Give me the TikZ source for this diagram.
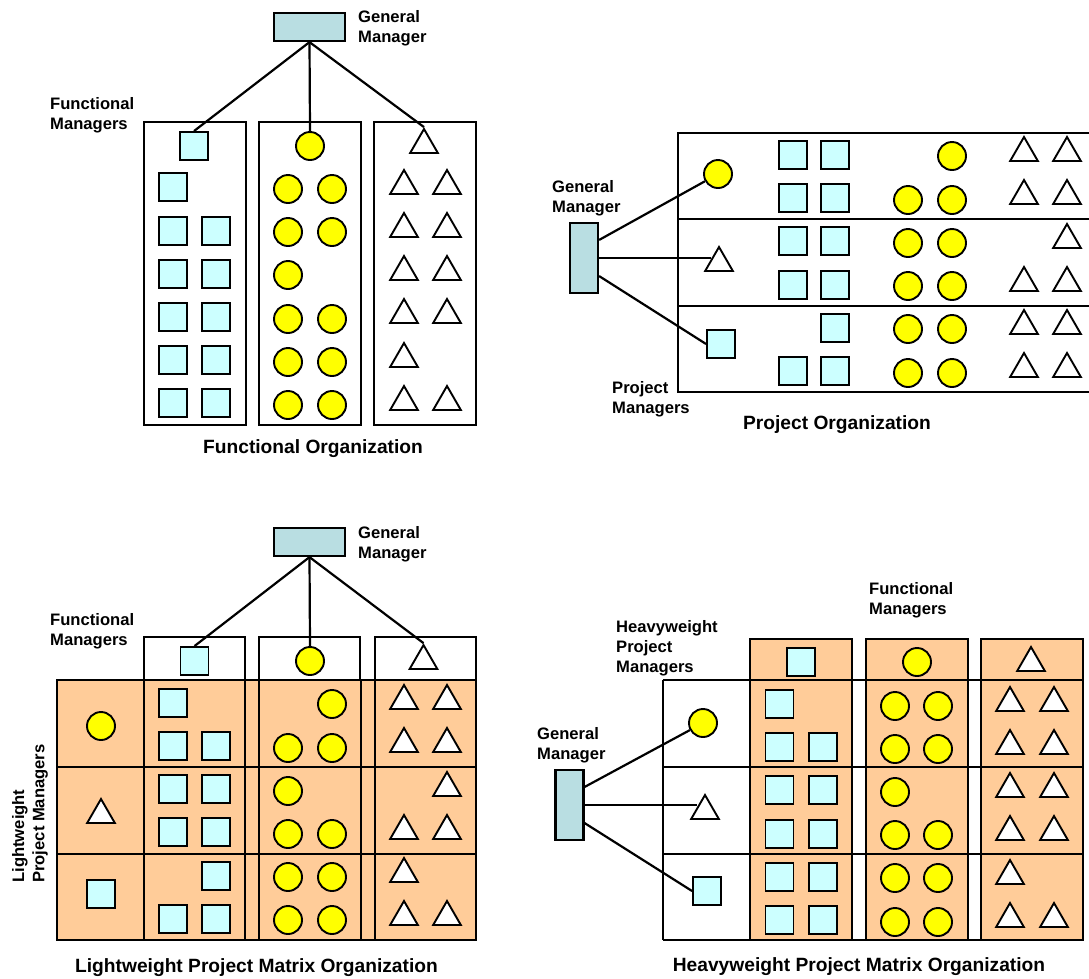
\documentclass[tikz,border=0pt]{standalone}
\usepackage{fontspec}
\setmainfont{Liberation Sans}
\usetikzlibrary{shapes.geometric,calc}
\definecolor{gmblue}{RGB}{185,222,226}
\definecolor{staff}{RGB}{204,255,255}
\definecolor{matrixfill}{RGB}{255,204,153}
\definecolor{yel}{RGB}{255,255,0}
\begin{document}
\begin{tikzpicture}[x=1pt,y=-1pt,
  sq/.style={draw,line width=1.9pt,fill=staff,minimum size=28pt,inner sep=0pt},
  ci/.style={circle,draw,line width=1.9pt,fill=yel,minimum size=28pt,inner sep=0pt},
  tr/.style={regular polygon,regular polygon sides=3,draw,line width=1.9pt,fill=white,minimum size=32pt,inner sep=0pt},
  gmh/.style={draw,line width=2.2pt,fill=gmblue,minimum width=71pt,minimum height=28pt,inner sep=0pt},
  gmv/.style={draw,line width=2.2pt,fill=gmblue,minimum width=28pt,minimum height=70pt,inner sep=0pt},
  frame/.style={line width=2.5pt},
  link/.style={line width=2.2pt},
  lbl/.style={font=\bfseries\fontsize{16.6}{20.3}\selectfont,align=left,anchor=north west,inner sep=0pt},
  ttl/.style={font=\bfseries\fontsize{19.2}{23}\selectfont,anchor=north,inner sep=0pt}]

\useasboundingbox (0,0) rectangle (1089,978);

% ---------- Functional organization ----------
\foreach \x in {144,259,374} \draw[frame] (\x,122) rectangle ++(102,303);
\node[gmh] (gm1) at (309.5,27) {};
\node[sq] (fm1s) at (194,146) {};
\node[ci] (fm1c) at (310,146) {};
\node[tr] (fm1t) at (424,145) {};
\foreach \x/\y [count=\k] in {173/187, 173/231,216/231, 173/274,216/274, 173/317,216/317, 173/360,216/360, 173/403,216/403}
  \node[sq] (fo-s\k) at (\x,\y) {};
\foreach \x/\y [count=\k] in {288/189,332/189, 288/232,332/232, 288/275, 288/319,332/319, 288/362,332/362, 288/405,332/405}
  \node[ci] (fo-c\k) at (\x,\y) {};
\foreach \x/\y [count=\k] in {404/186,447/186, 404/229,447/229, 404/272,447/272, 404/315,447/315, 404/359, 404/402,447/402}
  \node[tr] (fo-t\k) at (\x,\y) {};
\draw[link] (gm1.south) -- (fm1s.north);
\draw[link] (gm1.south) -- (fm1c.north);
\draw[link] (gm1.south) -- (fm1t.corner 1);
\node[lbl] (gm1l) at (358,10) {General\\Manager};
\node[lbl] (fm1l) at (50,97) {Functional\\Managers};
\node[ttl] (t1) at (313,439) {Functional Organization};

% ---------- Project organization ----------
\draw[frame] (1100,133) -- (678,133) -- (678,392) -- (1100,392);
\draw[frame] (678,219) -- (1100,219);
\draw[frame] (678,306) -- (1100,306);
\node[gmv] (gm2) at (584,258) {};
\node[ci] (pm2c) at (718,174) {};
\node[tr] (pm2t) at (719,263) {};
\node[sq] (pm2s) at (721,344) {};
\foreach \x/\y [count=\k] in {793/155,835/155, 793/198,835/198, 793/241,835/241, 793/285,835/285, 835/328, 793/371,835/371}
  \node[sq] (po-s\k) at (\x,\y) {};
\foreach \x/\y [count=\k] in {952/156, 908/200,952/200, 908/243,952/243, 908/286,952/286, 908/329,952/329, 908/373,952/373}
  \node[ci] (po-c\k) at (\x,\y) {};
\foreach \x/\y [count=\k] in {1024/153,1067/153, 1024/196,1067/196, 1067/240, 1024/283,1067/283, 1024/326,1067/326, 1024/369,1067/369}
  \node[tr] (po-t\k) at (\x,\y) {};
\draw[link] ($(gm2.north east)!0.25!(gm2.south east)$) -- (pm2c);
\draw[link] (gm2.east) -- (gm2.east -| pm2t.side 1);
\draw[link] ($(gm2.north east)!0.75!(gm2.south east)$) -- (pm2s.west);
\node[lbl] (gm2l) at (552,180) {General\\Manager};
\node[lbl] (pm2l) at (612,381) {Project\\Managers};
\node[ttl] (t2) at (837,415) {Project Organization};

% ---------- Lightweight project matrix ----------
\fill[matrixfill] (57,680) rectangle (476,940);
\foreach \x in {144,259,375} \draw[frame,fill=white] (\x,637) rectangle ++(101,43);
\draw[frame] (57,680) rectangle (476,940);
\draw[frame] (57,767) -- (476,767);
\draw[frame] (57,854) -- (476,854);
\foreach \x in {144,245,259,361,375} \draw[frame] (\x,680) -- (\x,940);
\node[gmh] (gm3) at (309.5,542) {};
\node[sq] (fm3s) at (194.5,661) {};
\node[ci] (fm3c) at (310,661) {};
\node[tr] (fm3t) at (423.5,661) {};
\node[ci] (pm3c) at (101,726) {};
\node[tr] (pm3t) at (101,815) {};
\node[sq] (pm3s) at (101,894) {};
\foreach \x/\y [count=\k] in {173/703, 173/746,216/746, 173/789,216/789, 173/832,216/832, 216/876, 173/919,216/919}
  \node[sq] (lw-s\k) at (\x,\y) {};
\foreach \x/\y [count=\k] in {332/704, 288/748,332/748, 288/791, 288/834,332/834, 288/877,332/877, 288/920,332/920}
  \node[ci] (lw-c\k) at (\x,\y) {};
\foreach \x/\y [count=\k] in {404/701,447/701, 404/744,447/744, 447/788, 404/831,447/831, 404/874, 404/917,447/917}
  \node[tr] (lw-t\k) at (\x,\y) {};
\draw[link] (gm3.south) -- (fm3s.north);
\draw[link] (gm3.south) -- (fm3c.north);
\draw[link] (gm3.south) -- (fm3t.corner 1);
\node[lbl] (gm3l) at (358,526) {General\\Manager};
\node[lbl] (fm3l) at (50,613) {Functional\\Managers};
\node[lbl,rotate=90,anchor=center] (pm3l) at (30,813.5) {Lightweight\\Project Managers};
\node[ttl] (t3) at (256.5,958) {Lightweight Project Matrix Organization};

% ---------- Heavyweight project matrix ----------
\foreach \x in {750,866,981} \draw[frame,fill=matrixfill] (\x,639) rectangle ++(102,301);
\foreach \y in {680,767,854,940} \draw[frame] (663,\y) -- (1083,\y);
\draw[frame] (663,680) -- (663,940);
\node[gmv] (gm4) at (569.5,805) {};
\node[ci] (pm4c) at (703,723) {};
\node[tr] (pm4t) at (705,811) {};
\node[sq] (pm4s) at (707,891) {};
\node[sq] (fm4s) at (801,662) {};
\node[ci] (fm4c) at (917,662) {};
\node[tr] (fm4t) at (1031,663) {};
\foreach \x/\y [count=\k] in {779.5/704, 779.5/747,823/747, 779.5/790,823/790, 779.5/834,823/834, 779.5/877,823/877, 779.5/920,823/920}
  \node[sq] (hw-s\k) at (\x,\y) {};
\foreach \x/\y [count=\k] in {895/706,938/706, 895/749,938/749, 895/792, 895/835,938/835, 895/878,938/878, 895/922,938/922}
  \node[ci] (hw-c\k) at (\x,\y) {};
\foreach \x/\y [count=\k] in {1010/703,1054/703, 1010/746,1054/746, 1010/789,1054/789, 1010/832,1054/832, 1010/876, 1010/919,1054/919}
  \node[tr] (hw-t\k) at (\x,\y) {};
\draw[link] ($(gm4.north east)!0.25!(gm4.south east)$) -- (pm4c);
\draw[link] (gm4.east) -- (gm4.east -| pm4t.side 1);
\draw[link] ($(gm4.north east)!0.75!(gm4.south east)$) -- (pm4s.west);
\node[lbl] (gm4l) at (537,727) {General\\Manager};
\node[lbl] (pm4l) at (616,620) {Heavyweight\\Project\\Managers};
\node[lbl] (fm4l) at (869,582) {Functional\\Managers};
\node[ttl] (t4) at (859,957) {Heavyweight Project Matrix Organization};
\end{tikzpicture}
\end{document}
